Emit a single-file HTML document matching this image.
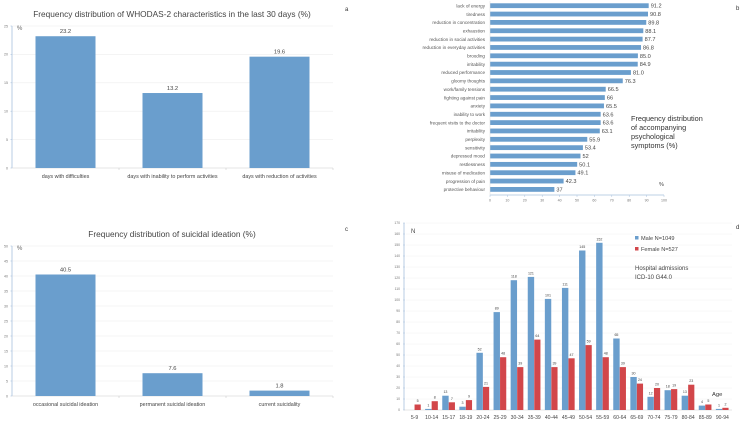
<!DOCTYPE html>
<html><head><meta charset="utf-8"><style>
html,body{margin:0;padding:0;background:#fff;}
svg{display:block;font-family:"Liberation Sans",sans-serif;}
</style></head><body>
<svg id="fig" width="742" height="422" viewBox="0 0 742 422" xmlns="http://www.w3.org/2000/svg">
<g id="pa"></g>
<g id="pb"></g>
<g id="pc"></g>
<g id="pd"></g>
</svg>
<script>
const aCats=["days with difficulties","days with inability to perform activities","days with reduction of activities"];
const aVals=[23.2,13.2,19.6];
const aTicks=[0,5,10,15,20,25];
const cCats=["occasional suicidal ideation","permanent suicidal ideation","current suicidality"];
const cVals=[40.5,7.6,1.8];
const cTicks=[0,5,10,15,20,25,30,35,40,45,50];
const bCats=["lack of energy","tiredness","reduction in concentration","exhaustion","reduction in social activities","reduction in everyday activities","brooding","irritability","reduced performance","gloomy thoughts","work/family tensions","fighting against pain","anxiety","inability to work","frequent visits to the doctor","irritability","perplexity","sensitivity","depressed mood","restlessness","misuse of medication","progression of pain","protective behaviour"];
const bVals=[91.2,90.8,89.8,88.1,87.7,86.8,85.0,84.9,81.0,76.3,66.5,66,65.5,63.6,63.6,63.1,55.9,53.4,52,50.1,49.1,42.3,37];
const bLabels=["91.2","90.8","89.8","88.1","87.7","86.8","85.0","84.9","81.0","76.3","66.5","66","65.5","63.6","63.6","63.1","55.9","53.4","52","50.1","49.1","42.3","37"];
const bTicks=[0,10,20,30,40,50,60,70,80,90,100];
const dCats=["5-9","10-14","15-17","18-19","20-24","25-29","30-34","35-39","40-44","45-49","50-54","55-59","60-64","65-69","70-74","75-79","80-84","85-89","90-94"];
const dMale=[0,1,13,3,52,89,118,121,101,111,145,152,65,30,12,18,13,4,1];
const dFemale=[5,8,7,9,21,48,39,64,39,47,59,48,39,24,20,19,23,5,2];
const dTicks=[0,10,20,30,40,50,60,70,80,90,100,110,120,130,140,150,160,170];

const NS="http://www.w3.org/2000/svg";
function mk(p,tag,at,txt){const e=document.createElementNS(NS,tag);for(const k in at)e.setAttribute(k,at[k]);if(txt!==undefined)e.textContent=txt;p.appendChild(e);return e;}
const BLUE="#6a9ecd",RED="#d2464a";

function vchart(g,cats,vals,ticks,y0,yTop,vmax,title,titleY,letter,letterY,pfx){
  const x0=12,x1=333;
  const y=v=>y0-(v/vmax)*(y0-yTop);
  const t=mk(g,'text',{x:172,y:titleY,'text-anchor':'middle','font-size':8.3,fill:'#444'},title);
  
  
  const l=mk(g,'text',{x:345,y:letterY,'font-size':6,fill:'#333'},letter);
  
  
  ticks.forEach(tv=>{
    if(tv>0){const gl=mk(g,'line',{x1:x0,x2:x1,y1:y(tv),y2:y(tv),stroke:'#eeeeee','stroke-width':0.6});
    
    }
    const tl=mk(g,'text',{x:8,y:y(tv)+1.3,'text-anchor':'end','font-size':3.6,fill:'#777'},tv);
    
    
    mk(g,'line',{x1:x0-1.5,x2:x0,y1:y(tv),y2:y(tv),stroke:'#a9c1dd','stroke-width':0.6});
  });
  const ax=mk(g,'line',{x1:x0,x2:x0,y1:y0,y2:yTop,stroke:'#a9c1dd','stroke-width':0.8});
  
  
  const xa=mk(g,'line',{x1:x0,x2:x1,y1:y0,y2:y0,stroke:'#ccc','stroke-width':0.6});
  
  
  const pc=mk(g,'text',{x:17,y:yTop+4,'font-size':6,fill:'#666'},'%');
  
  
  const band=(x1-x0)/cats.length;
  cats.forEach((c,i)=>{
    const cx=x0+band*(i+0.5);
    mk(g,'line',{x1:x0+band*(i+1),x2:x0+band*(i+1),y1:y0,y2:y0+2,stroke:'#ccc','stroke-width':0.6});
    const r=mk(g,'rect',{x:cx-30,y:y(vals[i]),width:60,height:y0-y(vals[i]),fill:BLUE});
    
    
    const v=mk(g,'text',{x:cx,y:y(vals[i])-3,'text-anchor':'middle','font-size':5.8,fill:'#444'},vals[i]);
    
    
    const cl=mk(g,'text',{x:cx,y:y0+10,'text-anchor':'middle','font-size':5.4,fill:'#444'},c);
    
    
  });
}
vchart(document.getElementById('pa'),aCats,aVals,aTicks,168,26,25,'Frequency distribution of WHODAS-2 characteristics in the last 30 days (%)',17,'a',11,'whodas');
vchart(document.getElementById('pc'),cCats,cVals,cTicks,396,246,50,'Frequency distribution of suicidal ideation (%)',237,'c',231,'suicidal');

// panel b
(function(){
  const g=document.getElementById('pb');
  const x0=490,x1=664,yFirst=5.7,step=8.35;
  const x=v=>x0+v/100*(x1-x0);
  bCats.forEach((c,i)=>{
    const cy=yFirst+i*step;
    const r=mk(g,'rect',{x:x0,y:cy-2.4,width:x(bVals[i])-x0,height:4.8,fill:BLUE});
    
    
    const l=mk(g,'text',{x:485,y:cy+1.7,'text-anchor':'end','font-size':4.6,fill:'#555'},c);
    
    
    const v=mk(g,'text',{x:x(bVals[i])+2,y:cy+2,'font-size':5.6,fill:'#444'},bLabels[i]);
    
    
  });
  const ax=mk(g,'line',{x1:x0,x2:x1,y1:195,y2:195,stroke:'#a9c1dd','stroke-width':0.7});
  
  
  mk(g,'line',{x1:x0,x2:x0,y1:1,y2:195,stroke:'#ddd','stroke-width':0.5});
  bTicks.forEach(t=>{
    mk(g,'line',{x1:x(t),x2:x(t),y1:195,y2:197,stroke:'#a9c1dd','stroke-width':0.5});
    const tl=mk(g,'text',{x:x(t),y:201.5,'text-anchor':'middle','font-size':3.6,fill:'#777'},t);
    
    
  });
  const tt=mk(g,'text',{'font-size':7.3,fill:'#333'});
  
  
  ['Frequency distribution','of accompanying','psychological','symptoms (%)'].forEach((s,i)=>mk(tt,'tspan',{x:631,y:121+i*9},s));
  const p=mk(g,'text',{x:659,y:186,'font-size':5.5,fill:'#444'},'%');
  
  
  const l=mk(g,'text',{x:736,y:10,'font-size':6,fill:'#333'},'b');
  
  
})();

// panel d
(function(){
  const g=document.getElementById('pd');
  const x0=406,band=17.1,y0=410,ppu=1.1,right=732;
  const y=v=>y0-v*ppu;
  dTicks.forEach(t=>{
    if(t>0){const gl=mk(g,'line',{x1:x0,x2:right,y1:y(t),y2:y(t),stroke:'#f0f0f0','stroke-width':0.5});
    
    }
    mk(g,'line',{x1:x0-3,x2:x0-1,y1:y(t),y2:y(t),stroke:'#a9c1dd','stroke-width':0.5});
    const tl=mk(g,'text',{x:x0-6,y:y(t)+1.2,'text-anchor':'end','font-size':3.4,fill:'#777'},t);
    
    
  });
  const ax=mk(g,'line',{x1:x0-2,x2:x0-2,y1:y0,y2:y(170),stroke:'#a9c1dd','stroke-width':0.8});
  
  
  const xa=mk(g,'line',{x1:x0-2,x2:right,y1:y0,y2:y0,stroke:'#ccc','stroke-width':0.5});
  
  
  dCats.forEach((c,i)=>{
    const cx=x0+band*(i+0.5);
    const m=mk(g,'rect',{x:cx-6.5,y:y(dMale[i]),width:6.4,height:dMale[i]*ppu,fill:BLUE});
    
    
    const f=mk(g,'rect',{x:cx,y:y(dFemale[i]),width:6.2,height:dFemale[i]*ppu,fill:RED});
    
    
    if(dMale[i]>0){const mv=mk(g,'text',{x:cx-3.3,y:y(dMale[i])-2.5,'text-anchor':'middle','font-size':3.6,fill:'#444'},dMale[i]);
    
    }
    const fv=mk(g,'text',{x:cx+3.1,y:y(dFemale[i])-2.5,'text-anchor':'middle','font-size':3.6,fill:'#444'},dFemale[i]);
    
    
    const cl=mk(g,'text',{x:cx,y:y0+9,'text-anchor':'middle','font-size':5.1,fill:'#444'},c);
    
    
  });
  const n=mk(g,'text',{x:411,y:233,'font-size':6,fill:'#444'},'N');
  
  
  const lm=mk(g,'g',{});
  
  
  mk(lm,'rect',{x:635,y:236,width:3.5,height:3.5,fill:BLUE});
  mk(lm,'text',{x:641,y:240,'font-size':5.6,fill:'#444'},'Male N=1049');
  const lf=mk(g,'g',{});
  
  
  mk(lf,'rect',{x:635,y:247,width:3.5,height:3.5,fill:RED});
  mk(lf,'text',{x:641,y:251,'font-size':5.6,fill:'#444'},'Female N=527');
  const h=mk(g,'text',{'font-size':6,fill:'#444'});
  
  
  mk(h,'tspan',{x:635,y:270},'Hospital admissions');
  mk(h,'tspan',{x:635,y:279},'ICD-10 G44.0');
  const a=mk(g,'text',{x:712,y:396,'font-size':5.8,fill:'#333'},'Age');
  
  
  const l=mk(g,'text',{x:736,y:229,'font-size':6,fill:'#333'},'d');
  
  
})();
</script>
</body></html>
